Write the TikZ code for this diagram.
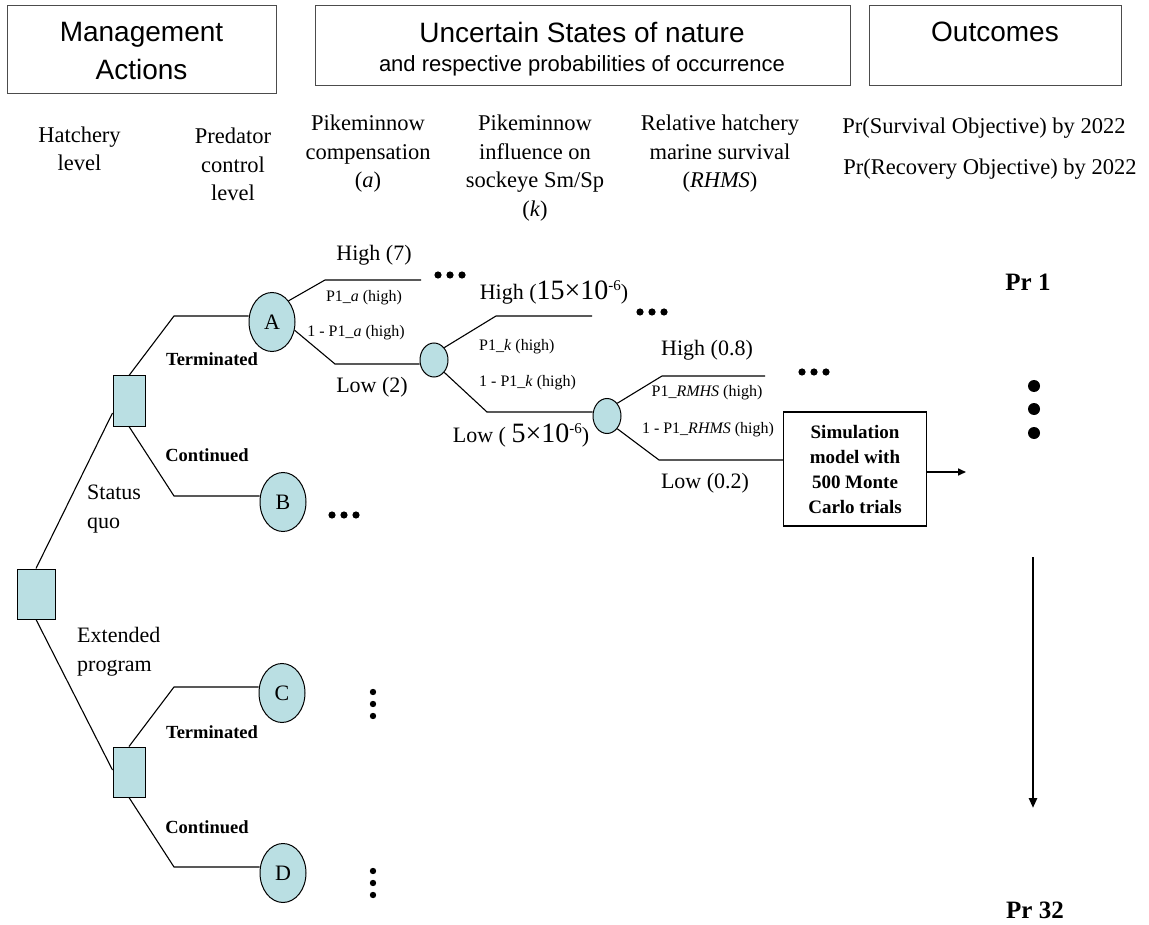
\documentclass[tikz,border=0pt]{standalone}
\usepackage{fontspec}
\setmainfont{Liberation Serif}
\newfontfamily\arialfont{Liberation Sans}
\usetikzlibrary{shapes.geometric,arrows.meta}
\definecolor{nodefill}{RGB}{186,223,227}
\newcommand\fsz[2]{\fontsize{#1}{#2}\selectfont}
\newcommand\sci[1]{{\fsz{28}{28}#1}\raisebox{9pt}{\fsz{15}{15}-6}}
\begin{document}
\begin{tikzpicture}[x=1pt,y=-1pt,
  hdrbox/.style={draw=black!70, line width=1.3pt, fill=white},
  hdrtext/.style={font=\arialfont\fsz{28}{38}, align=center, inner sep=0},
  colhdr/.style={font=\fsz{22.5}{28.5}, align=center, inner sep=0},
  lab/.style={font=\fsz{22}{29}, inner sep=0, align=center},
  small/.style={font=\fsz{16}{20}, inner sep=0},
  boldlab/.style={font=\bfseries\fsz{18.5}{22}, inner sep=0},
  decision/.style={rectangle, draw, line width=1pt, fill=nodefill, inner sep=0},
  chance/.style={ellipse, draw, line width=1pt, fill=nodefill, inner sep=0,
     minimum width=46, minimum height=59, font=\fsz{22}{22}},
  smallchance/.style={ellipse, draw, line width=1pt, fill=nodefill, inner sep=0,
     minimum width=28, minimum height=34},
  tline/.style={line width=1.1pt}
]
\useasboundingbox (0,0) rectangle (1149,925);

% header boxes
\node[hdrbox, minimum width=269, minimum height=88, anchor=north west] (mgmt) at (7,5) {};
\node[hdrbox, minimum width=535, minimum height=80, anchor=north west] (unc) at (315,5) {};
\node[hdrbox, minimum width=252, minimum height=80, anchor=north west] (outc) at (869,5) {};
\node[hdrtext] (mgmtT) at (141.5,51) {Management\\Actions};
\node[hdrtext] (uncT) at (582,32) {Uncertain States of nature};
\node[font=\arialfont\fsz{22}{26}, inner sep=0] (uncS) at (582,66) {and respective probabilities of occurrence};
\node[hdrtext] (outT) at (995,32) {Outcomes};

% column headers
\node[colhdr] (h1) at (79.5,149) {Hatchery\\level};
\node[colhdr] (h2) at (233,164.5) {Predator\\control\\level};
\node[colhdr] (h3) at (368,154) {Pikeminnow\\compensation\\(\textit{a})};
\node[colhdr] (h4) at (535,168) {Pikeminnow\\influence on\\sockeye Sm/Sp\\(\textit{k})};
\node[colhdr] (h5) at (720,154) {Relative hatchery\\marine survival\\(\textit{RHMS})};
\node[colhdr] (o1) at (984,128) {Pr(Survival Objective) by 2022};
\node[colhdr] (o2) at (990,169) {Pr(Recovery Objective) by 2022};

% decision nodes
\node[decision, minimum width=38, minimum height=50] (root) at (36,594) {};
\node[decision, minimum width=32, minimum height=50] (sqU) at (129,401) {};
\node[decision, minimum width=32, minimum height=50] (sqL) at (129,772) {};

% chance nodes
\node[chance] (A) at (272,322) {A};
\node[chance] (B) at (283,502) {B};
\node[chance] (C) at (282,693) {C};
\node[chance] (D) at (283,873) {D};
\node[smallchance] (c1) at (434,360) {};
\node[smallchance, minimum height=35] (c2) at (607,416) {};

% simulation box
\node[draw, line width=1.3pt, minimum width=143, minimum height=114, align=center,
      font=\bfseries\fsz{19}{25}, inner sep=0] (sim) at (855,469)
      {Simulation\\model with\\500 Monte\\Carlo trials};

% free ends
\coordinate (hA) at (421,280);
\coordinate (hK) at (592,316);
\coordinate (hR) at (765,376);
\coordinate (arr1) at (966,472);
\coordinate (vtop) at (1033,557);
\coordinate (vbot) at (1033,808);

% connectors
\draw[tline] (root.north) -- (sqU.west |- 0,413);
\draw[tline] (root.south) -- (sqL.west |- 0,770);
\draw[tline] (sqU.north) -- (174,316) -- (A.west |- 0,316);
\draw[tline] (sqU.south) -- (174,496) -- (B.west |- 0,496);
\draw[tline] (sqL.north) -- (174,687) -- (C.west |- 0,687);
\draw[tline] (sqL.south) -- (174,867) -- (D.west |- 0,867);
\draw[tline] (A.north east) -- (325,280) -- (hA);
\draw[tline] (A.-20) -- (335,364) -- (c1.west |- 0,364);
\draw[tline] (c1.north east) -- (496,316) -- (hK);
\draw[tline] (c1.south east) -- (487,412) -- (c2.west |- 0,412);
\draw[tline] (c2.north east) -- (662,376) -- (hR);
\draw[tline] (c2.south east) -- (659,460) -- (sim.west |- 0,460);
\draw[line width=1.6pt, -{Triangle[length=8pt,width=7pt]}] (sim.east |- 0,472) -- (arr1);
\draw[line width=2.6pt, -{Triangle[length=10pt,width=8pt]}] (vtop) -- (vbot);

% branch labels
\node[boldlab] (t1) at (212,359) {Terminated};
\node[boldlab] (n1) at (207,455) {Continued};
\node[boldlab] (t2) at (212,732) {Terminated};
\node[boldlab] (n2) at (207,827) {Continued};
\node[lab, align=left, anchor=west] (sq) at (87,509) {Status\\quo};
\node[lab, align=left, anchor=west] (ext) at (77,652) {Extended\\program};

\node[lab] (l1) at (374,255) {High (7)};
\node[small] (p1) at (364,298) {P1\_\textit{a} (high)};
\node[small] (p2) at (356,333) {1 - P1\_\textit{a} (high)};
\node[lab] (l2) at (372,387) {Low (2)};

\node[lab] (l3) at (554,292) {High (\sci{15\texttimes10})};
\node[small, anchor=west] (p3) at (479,347) {P1\_\textit{k} (high)};
\node[small, anchor=west] (p4) at (479,383) {1 - P1\_\textit{k} (high)};
\node[lab] (l4) at (521,435) {Low ( \sci{5\texttimes10})};

\node[lab] (l5) at (707,350) {High (0.8)};
\node[small] (p5) at (707,393) {P1\_\textit{RMHS} (high)};
\node[small] (p6) at (708,430) {1 - P1\_\textit{RHMS} (high)};
\node[lab] (l6) at (705,483) {Low (0.2)};

\node[font=\bfseries\fsz{25}{25}, inner sep=0] (pr1) at (1028,282) {Pr 1};
\node[font=\bfseries\fsz{25}{25}, inner sep=0] (pr32) at (1035,910) {Pr 32};

% ellipsis dots
\foreach \cx/\cy in {450/275, 652/312, 814/372, 344/515}
  \foreach \d in {-12,0,12} \fill (\cx+\d,\cy) circle (3.6);
\foreach \d in {-12,0,12} {
  \fill (373,704+\d) circle (3.2);
  \fill (373,883+\d) circle (3.2);
}
\foreach \yy in {386,409,433} \fill (1034,\yy) circle (6);
\end{tikzpicture}
\end{document}
